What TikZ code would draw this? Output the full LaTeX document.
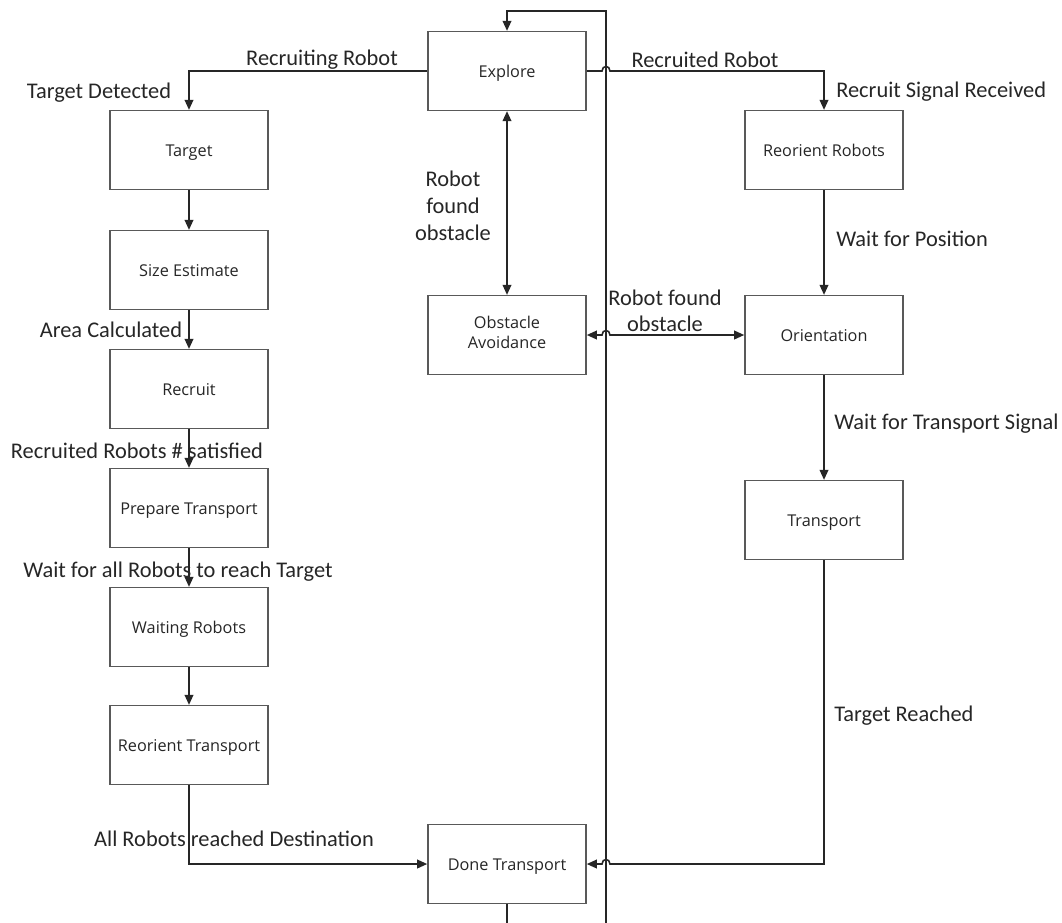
\documentclass[tikz,border=0pt]{standalone}
\usepackage{fontspec}
\setmainfont{Carlito}
\newfontfamily\boxfont{Open Sans}
\usetikzlibrary{arrows.meta}
\begin{document}
\begin{tikzpicture}[x=0.75pt,y=-0.75pt,
  stbox/.style={draw=black!65,line width=1.2pt,fill=white,minimum width=118.5pt,minimum height=59pt,inner sep=0pt,
    font=\boxfont\fontsize{12.2}{14}\selectfont,text=black!85,text height=11pt,text depth=1.5pt},
  conn/.style={draw=black!85,line width=1.2pt},
  tip/.style={-{Triangle[length=7.5pt,width=6.5pt]}},
  lbl/.style={inner sep=0pt,yshift=-1.5pt,font=\fontsize{16.8}{20.2}\selectfont,text=black!85}]
\useasboundingbox (0,0) rectangle (1062,922);
\clip (0,0) rectangle (1062,922);
% boxes
\node[stbox] (explore) at (507,71) {Explore};
\node[stbox] (target) at (189,150) {Target};
\node[stbox] (size) at (189,270) {Size Estimate};
\node[stbox] (recruit) at (189,389) {Recruit};
\node[stbox] (prep) at (189,508) {Prepare Transport};
\node[stbox] (wait) at (189,627) {Waiting Robots};
\node[stbox] (reotr) at (189,745) {Reorient Transport};
\node[stbox,text height=,text depth=] (obst) at (507,335) {\begin{tabular}{@{}c@{}}Obstacle\\[1pt]Avoidance\end{tabular}};
\node[stbox] (done) at (507,864) {Done Transport};
\node[stbox] (reorob) at (824,150) {Reorient Robots};
\node[stbox] (orient) at (824,335) {Orientation};
\node[stbox] (trans) at (824,520) {Transport};
% loop
\draw[conn,tip] (done.south) -- (507,945) -- (606,945) -- (606,11) -- (507,11) -- (explore.north);
% left chain
\draw[conn,tip] (explore.west) -- (189,71) -- (target.north);
\draw[conn,tip] (target) -- (size);
\draw[conn,tip] (size) -- (recruit);
\draw[conn,tip] (recruit) -- (prep);
\draw[conn,tip] (prep) -- (wait);
\draw[conn,tip] (wait) -- (reotr);
\draw[conn,tip] (reotr.south) -- (189,864) -- (done.west);
% middle
\draw[conn,{Triangle[length=7.5pt,width=6.5pt]}-{Triangle[length=7.5pt,width=6.5pt]}] (explore) -- (obst);
% right chain
\draw[conn,tip] (explore.east) -- (602,71) .. controls (602,65) and (610,65) .. (610,71) -- (824,71) -- (reorob.north);
\draw[conn,tip] (reorob) -- (orient);
\draw[conn,{Triangle[length=7.5pt,width=6.5pt]}-{Triangle[length=7.5pt,width=6.5pt]}] (obst.east) -- (602,335) .. controls (602,329) and (610,329) .. (610,335) -- (orient.west);
\draw[conn,tip] (orient) -- (trans);
\draw[conn,tip] (trans.south) -- (824,864) -- (610,864) .. controls (610,858) and (602,858) .. (602,864) -- (done.east);
% labels
\node[lbl] (l1) at (322,58) {Recruiting Robot};
\node[lbl] (l2) at (99,91) {Target Detected};
\node[lbl] (l3) at (111,328) {Area Calculated};
\node[lbl] (l4) at (137,449) {Recruited Robots \# satisfied};
\node[lbl] (l5) at (178,570) {Wait for all Robots to reach Target};
\node[lbl] (l6) at (234,837) {All Robots reached Destination};
\node[lbl,align=center] (l7) at (453,204) {Robot\\found\\obstacle};
\node[lbl] (l8) at (705,58) {Recruited Robot};
\node[lbl,anchor=west] (l9) at (836,90) {Recruit Signal Received};
\node[lbl,anchor=west] (l10) at (836,237) {Wait for Position};
\node[lbl,align=center,font=\fontsize{16.8}{19.5}\selectfont] (l11) at (665,309) {Robot found\\obstacle};
\node[lbl,anchor=west] (l12) at (834,422) {Wait for Transport Signal};
\node[lbl,anchor=west] (l13) at (834,714) {Target Reached};
\end{tikzpicture}
\end{document}
